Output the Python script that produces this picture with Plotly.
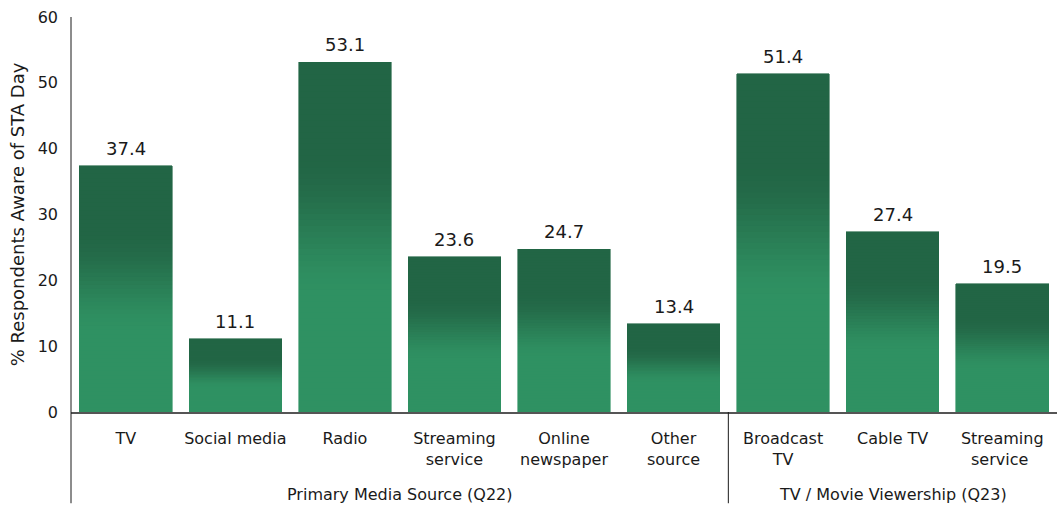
import plotly.graph_objects as go

# Survey results: share of respondents aware of STA Day, by media source
categories = ["TV", "Social media", "Radio", "Streaming<br>service", "Online<br>newspaper",
              "Other<br>source", "Broadcast<br>TV", "Cable TV", "Streaming<br>service "]
values = [37.4, 11.1, 53.1, 23.6, 24.7, 13.4, 51.4, 27.4, 19.5]
groups = ["Primary Media Source (Q22)", "TV / Movie Viewership (Q23)"]
group_sizes = [6, 3]
y_ticks = [0, 10, 20, 30, 40, 50, 60]

FONT = "DejaVu Sans"
TEXT = "#1a1a1a"
DARK = (34, 101, 69)
LIGHT = (47, 145, 98)
N_SEG = 60


def seg_color(t):
    # t = relative height within a bar (0 bottom, 1 top); dark at top, light at bottom
    lo, hi = 0.32, 0.74
    if t <= lo:
        s = 0.0
    elif t >= hi:
        s = 1.0
    else:
        s = (t - lo) / (hi - lo)
        s = s * s * (3 - 2 * s)
    r, g, b = (round(LIGHT[i] + (DARK[i] - LIGHT[i]) * s) for i in range(3))
    return f"rgb({r},{g},{b})"


fig = go.Figure()

# Each bar is built from stacked slices so it can carry a vertical gradient
for k in range(N_SEG):
    c = seg_color((k + 0.5) / N_SEG)
    fig.add_trace(go.Bar(
        x=categories,
        y=[v / N_SEG for v in values],
        marker=dict(color=c, line=dict(color=c, width=0.6)),
        hoverinfo="skip",
        showlegend=False,
    ))

# Value labels above the bars
for cat, v in zip(categories, values):
    fig.add_annotation(
        x=cat, y=v, text=f"{v:.1f}", showarrow=False,
        xanchor="center", yanchor="bottom", yshift=5,
        font=dict(family=FONT, size=18, color=TEXT),
    )

# Group labels and separators under the category axis
n_total = sum(group_sizes)
start = 0
for name, size in zip(groups, group_sizes):
    center = (start + size / 2) / n_total
    fig.add_annotation(
        x=center, y=-0.208, xref="paper", yref="paper",
        text=name, showarrow=False, xanchor="center", yanchor="middle",
        font=dict(family=FONT, size=16, color=TEXT),
    )
    if start > 0:
        xpos = start / n_total
        fig.add_shape(type="line", xref="paper", yref="paper",
                      x0=xpos, x1=xpos, y0=0, y1=-0.231,
                      line=dict(color=TEXT, width=1))
    start += size

# Left axis line continues down through the group label area
fig.add_shape(type="line", xref="paper", yref="paper",
              x0=0, x1=0, y0=-0.231, y1=1,
              line=dict(color=TEXT, width=1))

fig.update_layout(
    width=1059, height=507,
    margin=dict(l=71, r=2, t=17, b=95),
    barmode="stack",
    bargap=0.155,
    plot_bgcolor="white",
    paper_bgcolor="white",
    font=dict(family=FONT, size=16, color=TEXT),
    xaxis=dict(
        showgrid=False, showline=True, linecolor="#555555", linewidth=1.5,
        ticks="", tickfont=dict(family=FONT, size=16, color=TEXT),
        ticklabelstandoff=11,
        fixedrange=True,
    ),
    yaxis=dict(
        range=[0, 60], tickvals=y_ticks, showgrid=False, zeroline=False,
        showline=False, ticks="", ticklabelstandoff=12,
        tickfont=dict(family=FONT, size=16, color=TEXT),
        title=dict(text="% Respondents Aware of STA Day",
                   font=dict(family=FONT, size=18, color=TEXT), standoff=8),
        fixedrange=True,
    ),
)

fig.write_html("out.html")
